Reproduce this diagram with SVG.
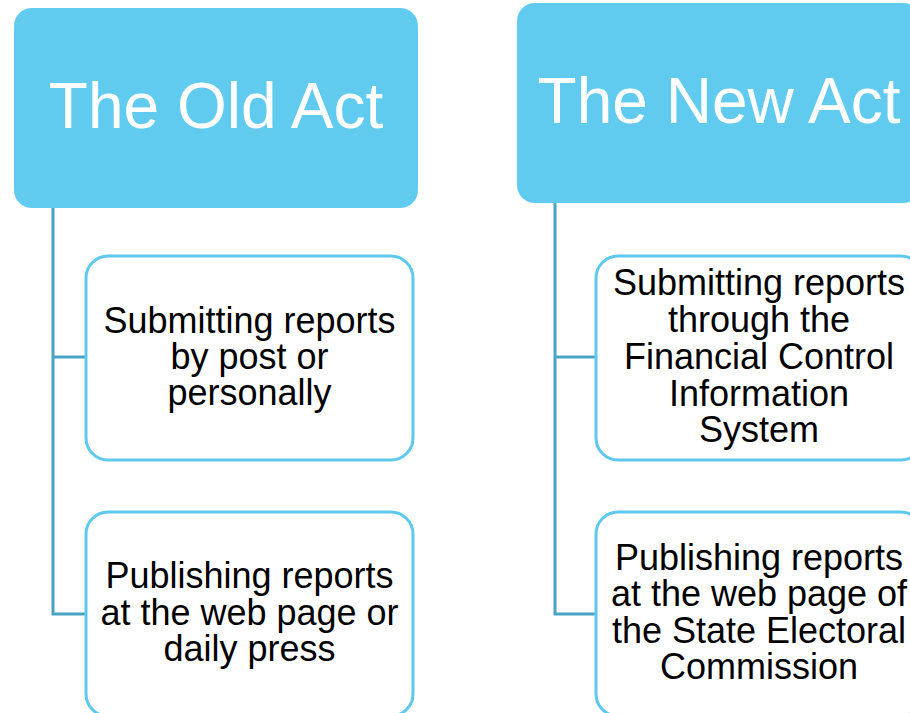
<svg xmlns="http://www.w3.org/2000/svg" width="910" height="713" viewBox="0 0 910 713">
<style>
.hdr{fill:#61CBEF}
.hdrt{fill:#ffffff;font-family:"Liberation Sans",Arial,sans-serif;font-size:64px;text-anchor:middle}
.box{fill:#ffffff;stroke:#5EC9EE;stroke-width:3}
.t{fill:#000000;font-family:"Liberation Sans",Arial,sans-serif;font-size:36px;text-anchor:middle}
.conn{fill:none;stroke:#4BA3C3;stroke-width:3}
</style>
<rect width="910" height="713" fill="#ffffff"/>
<g id="connectors">
<path class="conn" d="M53 208 V614 H86 M53 357 H86"/>
<path class="conn" d="M555 203 V614 H596 M555 357 H596"/>
</g>
<g id="old-act">
<rect class="hdr" x="14" y="8" width="404" height="200" rx="18"/>
<text class="hdrt" x="216" y="128">The Old Act</text>
</g>
<g id="new-act">
<rect class="hdr" x="517" y="3" width="404" height="200" rx="18"/>
<text class="hdrt" x="719" y="123">The New Act</text>
</g>
<g id="old-submit">
<rect class="box" x="86" y="256" width="327" height="204" rx="22"/>
<text class="t" x="249.5" y="333">Submitting reports</text>
<text class="t" x="249.5" y="369">by post or</text>
<text class="t" x="249.5" y="405">personally</text>
</g>
<g id="old-publish">
<rect class="box" x="86" y="512" width="327" height="204" rx="22"/>
<text class="t" x="249.5" y="588">Publishing reports</text>
<text class="t" x="249.5" y="625">at the web page or</text>
<text class="t" x="249.5" y="661">daily press</text>
</g>
<g id="new-submit">
<rect class="box" x="596" y="256" width="327" height="204" rx="22"/>
<text class="t" x="759" y="295">Submitting reports</text>
<text class="t" x="759" y="332">through the</text>
<text class="t" x="759" y="369">Financial Control</text>
<text class="t" x="759" y="406">Information</text>
<text class="t" x="759" y="442">System</text>
</g>
<g id="new-publish">
<rect class="box" x="596" y="512" width="327" height="204" rx="22"/>
<text class="t" x="759" y="570">Publishing reports</text>
<text class="t" x="759" y="606">at the web page of</text>
<text class="t" x="759" y="643">the State Electoral</text>
<text class="t" x="759" y="679">Commission</text>
</g>
</svg>
